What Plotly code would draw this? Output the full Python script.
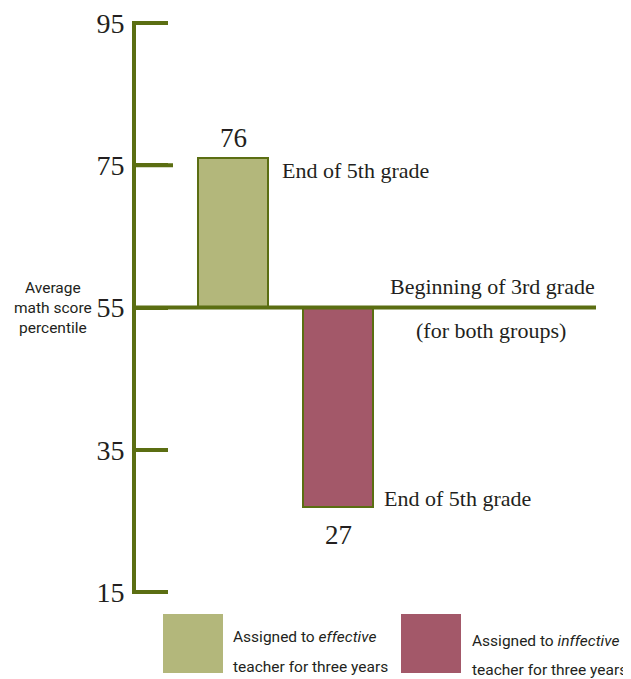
import plotly.graph_objects as go

# ---- data ----
groups = ["Assigned to effective teacher for three years",
          "Assigned to inffective teacher for three years"]
start_value = 55            # beginning of 3rd grade (both groups)
end_values = [76, 27]       # end of 5th grade
bar_colors = ["#b3b77b", "#a35869"]
tick_vals = [15, 35, 55, 75, 95]
tick_text = ["15", "35", "55", "75", "95"]

# ---- layout geometry (reference pixel coordinates) ----
OFF = 8                      # page body margin
REF_W, REF_H = 631, 679
PL, PR, PT, PB = 136, 631, 21, 594   # plot area in reference pixels
W, H = REF_W - OFF, REF_H - OFF
ML, MT = PL - OFF, PT - OFF
MR, MB = W - (PR - OFF), H - (PB - OFF)

GREEN = "#5b6e12"
TXT = "#231f20"
SERIF = "Liberation Serif, Times New Roman, serif"
SANS = "Roboto, Liberation Sans, sans-serif"

def px(x):  # reference pixel -> paper x
    return (x - PL) / (PR - PL)

def py(y):  # reference pixel -> paper y
    return (PB - y) / (PB - PT)

fig = go.Figure()
fig.add_trace(go.Bar(
    x=[0, 1],
    y=[v - start_value for v in end_values],
    base=[start_value] * len(end_values),
    width=0.667,
    marker=dict(color=bar_colors, line=dict(color=GREEN, width=2)),
    showlegend=False,
    hoverinfo="skip",
))

annotations = []
annotations.append(dict(x=0, y=end_values[0], xref="x", yref="y", text=str(end_values[0]),
                        showarrow=False, yanchor="bottom", yshift=3,
                        font=dict(family=SERIF, size=27, color=TXT)))
annotations.append(dict(x=1, y=end_values[1], xref="x", yref="y", text=str(end_values[1]),
                        showarrow=False, yanchor="top", yshift=-11,
                        font=dict(family=SERIF, size=27, color=TXT)))
annotations.append(dict(x=0.333, y=end_values[0], xref="x", yref="y", text="End of 5th grade",
                        showarrow=False, xanchor="left", yanchor="middle", xshift=12, yshift=-12,
                        font=dict(family=SERIF, size=22, color=TXT)))
annotations.append(dict(x=1.333, y=end_values[1], xref="x", yref="y", text="End of 5th grade",
                        showarrow=False, xanchor="left", yanchor="middle", xshift=9, yshift=8,
                        font=dict(family=SERIF, size=22, color=TXT)))
annotations.append(dict(x=px(597), y=start_value, xref="paper", yref="y", text="Beginning of 3rd grade",
                        showarrow=False, xanchor="right", yanchor="bottom", yshift=7,
                        font=dict(family=SERIF, size=22, color=TXT)))
annotations.append(dict(x=px(491), y=start_value, xref="paper", yref="y", text="(for both groups)",
                        showarrow=False, xanchor="center", yanchor="top", yshift=-8,
                        font=dict(family=SERIF, size=22, color=TXT)))
annotations.append(dict(x=px(53), y=start_value, xref="paper", yref="y",
                        text="Average<br>math score<br>percentile",
                        showarrow=False, xanchor="center", yanchor="middle",
                        align="center",
                        font=dict(family=SANS, size=15.5, color=TXT)))
annotations += [
    dict(x=px(231), y=py(637), xref="paper", yref="paper", text="Assigned to <i>effective</i>",
         showarrow=False, xanchor="left", yanchor="middle", font=dict(family=SANS, size=15.5, color=TXT)),
    dict(x=px(231), y=py(667), xref="paper", yref="paper", text="teacher for three years",
         showarrow=False, xanchor="left", yanchor="middle", font=dict(family=SANS, size=15.5, color=TXT)),
    dict(x=px(470), y=py(641), xref="paper", yref="paper", text="Assigned to <i>inffective</i>",
         showarrow=False, xanchor="left", yanchor="middle", font=dict(family=SANS, size=15.5, color=TXT)),
    dict(x=px(470), y=py(670), xref="paper", yref="paper", text="teacher for three years",
         showarrow=False, xanchor="left", yanchor="middle", font=dict(family=SANS, size=15.5, color=TXT)),
]

shapes = [
    dict(type="line", xref="paper", yref="y", x0=0, x1=px(596), y0=start_value, y1=start_value,
         line=dict(color=GREEN, width=4), layer="above"),
    # slightly longer tick at 75, as in the original
    dict(type="line", xref="paper", yref="y", x0=0, x1=px(173), y0=75, y1=75,
         line=dict(color=GREEN, width=4), layer="above"),
    dict(type="rect", xref="paper", yref="paper", x0=px(163), x1=px(223), y0=py(614), y1=py(673),
         fillcolor=bar_colors[0], line=dict(width=0)),
    dict(type="rect", xref="paper", yref="paper", x0=px(401), x1=px(461), y0=py(614), y1=py(673),
         fillcolor=bar_colors[1], line=dict(width=0)),
]

# axis ranges so that categories sit at 233 / 338 px and 95/15 at 23/592 px
x_lo = (PL - 233) / 105.0
x_hi = (PR - 233) / 105.0
unit = (592 - 23) / 80.0
y_hi = 95 + (23 - PT) / unit
y_lo = 15 - (PB - 592) / unit

fig.update_layout(
    width=W, height=H,
    margin=dict(l=ML, r=MR, t=MT, b=MB, pad=0),
    paper_bgcolor="white", plot_bgcolor="white",
    xaxis=dict(range=[x_lo, x_hi], visible=False, fixedrange=True),
    yaxis=dict(range=[y_lo, y_hi], tickvals=tick_vals, ticktext=tick_text,
               showgrid=False, zeroline=False, showline=True, linecolor=GREEN, linewidth=4,
               ticks="inside", ticklen=32, tickwidth=4, tickcolor=GREEN,
               ticklabelstandoff=2, ticklabeloverflow="allow",
               tickfont=dict(family=SERIF, size=28, color=TXT), fixedrange=True),
    annotations=annotations,
    shapes=shapes,
    bargap=0,
)

fig.write_html("out.html")
